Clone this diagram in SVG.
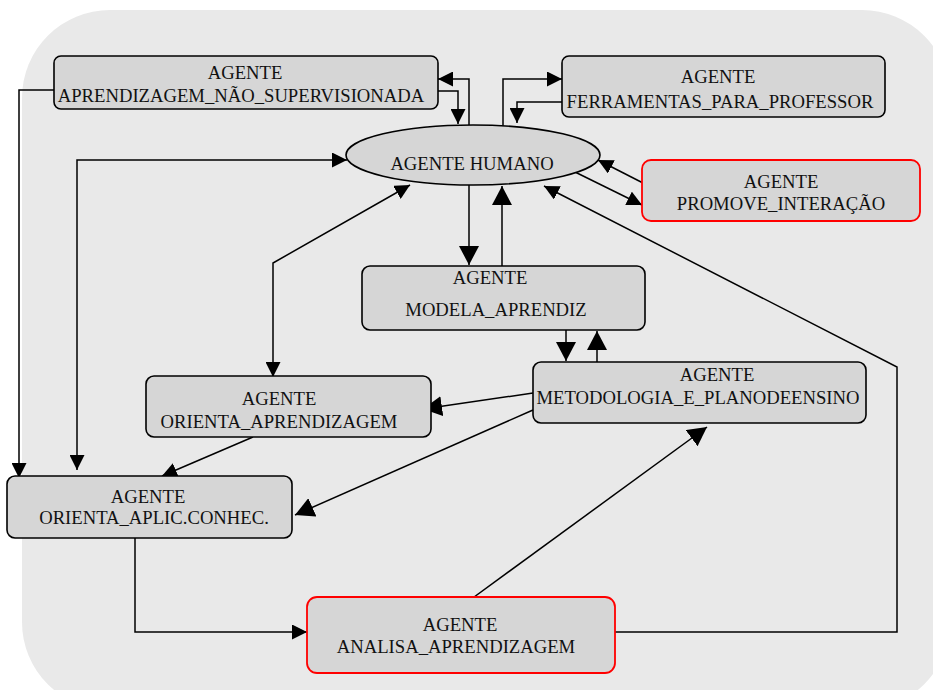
<svg xmlns="http://www.w3.org/2000/svg" width="933" height="690" viewBox="0 0 933 690">
<style>
.bg{fill:#e9e9e9;stroke:none}
.box{fill:#d6d6d6;stroke:#000;stroke-width:1.6}
.red{fill:#d6d6d6;stroke:#ff0000;stroke-width:1.8}
.t{font-family:"Liberation Serif","Times New Roman",serif;font-size:18.67px;fill:#111;text-anchor:middle}
.c{fill:none;stroke:#000;stroke-width:1.5}
.s{marker-end:url(#ms)}
.l{marker-end:url(#ml)}
</style>
<defs>
<marker id="ms" viewBox="0 0 15 15" refX="15" refY="7.5" markerWidth="15" markerHeight="15" markerUnits="userSpaceOnUse" orient="auto-start-reverse">
<path d="M0,0 L15,7.5 L0,15 z" fill="#000"/>
</marker>
<marker id="ml" viewBox="0 0 19 20" refX="19" refY="10" markerWidth="19" markerHeight="20" markerUnits="userSpaceOnUse" orient="auto-start-reverse">
<path d="M0,0 L19,10 L0,20 z" fill="#000"/>
</marker>
</defs>
<rect class="bg" x="22" y="10" width="928" height="700" rx="88"/>
<g id="connectors">
<path class="c s" d="M54,90 H19 V478"/>
<path class="c s" d="M469,125 V79 H438"/>
<path class="c s" d="M436,91 H458 V124"/>
<path class="c s" d="M503,126 V79 H562"/>
<path class="c s" d="M562,102 H517 V123"/>
<path class="c s" d="M643,183 L598,160"/>
<path class="c s" d="M575,172 L642,205"/>
<path class="c s" d="M608,632 H897 V367 L544,186"/>
<path class="c l" d="M469,185 V265"/>
<path class="c l" d="M502,266 V186"/>
<path class="c l" d="M566,330 V361"/>
<path class="c l" d="M597,362 V331"/>
<path class="c l" d="M533,393 L423,409"/>
<path class="c l" d="M533,410 L295,515"/>
<path class="c s" d="M253,437 L162,476"/>
<path class="c s" d="M347,160 H77 V470" marker-start="url(#ms)"/>
<path class="c s" d="M410,185 L273,263 V377" marker-start="url(#ms)"/>
<path class="c s" d="M135,538 V632 H307"/>
<path class="c l" d="M470,600 L707,427"/>
</g>
<g id="aprendizagem_nao_supervisionada">
<rect class="box" x="54" y="56" width="384" height="53" rx="7"/>
<text class="t" x="245" y="79">AGENTE</text>
<text class="t" x="241" y="102">APRENDIZAGEM_NÃO_SUPERVISIONADA</text>
</g>
<g id="ferramentas_para_professor">
<rect class="box" x="562" y="56" width="323" height="61" rx="7"/>
<text class="t" x="718" y="83">AGENTE</text>
<text class="t" x="720" y="108">FERRAMENTAS_PARA_PROFESSOR</text>
</g>
<g id="agente_humano">
<ellipse class="box" cx="473" cy="155" rx="127" ry="30"/>
<text class="t" x="472" y="170">AGENTE HUMANO</text>
</g>
<g id="promove_interacao">
<rect class="red" x="642" y="160" width="278" height="61" rx="9"/>
<text class="t" x="781" y="188">AGENTE</text>
<text class="t" x="781" y="210">PROMOVE_INTERAÇÃO</text>
</g>
<g id="modela_aprendiz">
<rect class="box" x="362" y="266" width="283" height="64" rx="8"/>
<text class="t" x="490" y="284">AGENTE</text>
<text class="t" x="496" y="316">MODELA_APRENDIZ</text>
</g>
<g id="metodologia_e_planodeensino">
<rect class="box" x="533" y="362" width="333" height="61" rx="8"/>
<text class="t" x="717" y="381">AGENTE</text>
<text class="t" x="698" y="404">METODOLOGIA_E_PLANODEENSINO</text>
</g>
<g id="orienta_aprendizagem">
<rect class="box" x="146" y="376" width="285" height="61" rx="8"/>
<text class="t" x="279" y="405">AGENTE</text>
<text class="t" x="279" y="428">ORIENTA_APRENDIZAGEM</text>
</g>
<g id="orienta_aplic_conhec">
<rect class="box" x="7" y="476" width="285" height="62" rx="8"/>
<text class="t" x="148" y="503">AGENTE</text>
<text class="t" x="154" y="524">ORIENTA_APLIC.CONHEC.</text>
</g>
<g id="analisa_aprendizagem">
<rect class="red" x="307" y="597" width="308" height="76" rx="10"/>
<text class="t" x="460" y="631">AGENTE</text>
<text class="t" x="456" y="653">ANALISA_APRENDIZAGEM</text>
</g>
</svg>
